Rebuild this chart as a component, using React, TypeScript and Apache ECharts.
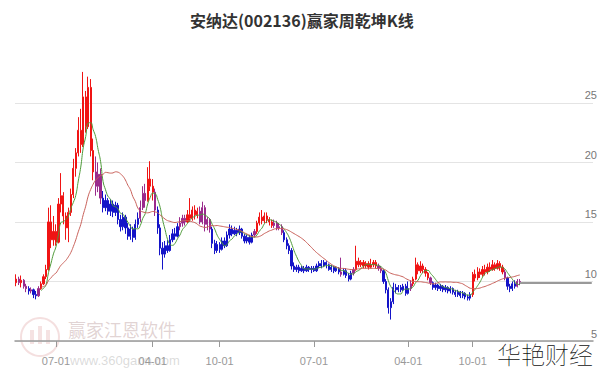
import React, { useEffect, useRef } from "react";
import * as echarts from "echarts";

// ---------- data ----------
const TITLE = "安纳达(002136)赢家周乾坤K线";
const FIRST_WEEK = "2015-03-13";
// weeks with no trading (holiday weeks) are not on the axis
const HOLIDAY_WEEKS = ["2016-10-07", "2017-10-06", "2018-10-05", "2019-02-08"];
const AXIS_WEEKS = 233;
const TICK_DATES = ["2015-07-01", "2016-04-01", "2016-10-01", "2017-07-01", "2018-04-01", "2018-10-01"];
const Y_TICKS = [5, 10, 15, 20, 25];

const OPEN = [
  9.9, 10.2, 9.9, 10.1, 9.6, 9.4, 9.2, 9.3, 8.9, 8.8,
  9.4, 9.8, 10.4, 11.0, 15.0, 13.5, 14.2, 13.3, 16.5, 17.2,
  15.5, 14.5, 15.8, 17.3, 19.5, 20.8, 22.7, 21.5, 25.5, 23.0,
  26.3, 21.0, 19.2, 18.0, 19.0, 17.0, 16.2, 16.8, 15.9, 16.5,
  15.8, 16.4, 15.2, 14.6, 15.4, 14.5, 13.8, 14.4, 13.7, 14.8,
  15.3, 16.2, 17.4, 16.8, 18.6, 18.0, 17.5, 16.0, 14.5, 12.8,
  12.3, 13.0, 12.6, 13.5, 14.0, 13.8, 14.6, 14.9, 15.3, 15.0,
  15.6, 15.3, 16.0, 15.6, 15.9, 15.0, 16.2, 14.8, 15.2, 14.4,
  13.2, 12.6, 13.1, 12.7, 13.4, 13.0, 13.9, 14.4, 14.0, 14.3,
  14.1, 14.4, 13.8, 13.4, 13.7, 13.3, 13.9, 14.2, 14.9, 15.4,
  15.1, 15.5, 15.2, 15.0, 14.7, 14.9, 14.5, 14.6, 14.1, 13.5,
  13.0, 12.6, 11.3, 11.0, 11.2, 10.9, 11.1, 10.9, 11.2, 11.0,
  11.1, 10.9, 11.3, 11.5, 11.3, 11.6, 11.4, 11.0, 11.2, 10.9,
  11.1, 10.8, 10.6, 10.9, 10.5, 10.2, 10.7, 11.0, 11.7, 11.4,
  11.6, 11.3, 11.5, 11.2, 11.4, 11.6, 11.3, 11.1, 10.9, 10.0,
  9.3, 7.8, 8.3, 9.5, 9.3, 9.5, 9.3, 9.6, 9.0, 9.4,
  9.8, 10.2, 11.4, 10.9, 11.3, 11.0, 10.7, 10.3, 9.9, 9.5,
  9.7, 9.4, 9.6, 9.3, 9.5, 9.2, 9.4, 9.1, 8.9, 9.1,
  8.8, 9.0, 8.7, 8.6, 8.9, 10.6, 10.3, 10.8, 10.6, 11.0,
  10.8, 11.2, 11.0, 11.4, 11.1, 11.5, 11.2, 10.8, 10.3, 9.6,
  9.4, 9.8, 9.6, 10.0,
];
const CLOSE = [
  10.2, 9.9, 10.1, 9.6, 9.4, 9.2, 9.3, 8.9, 8.8, 9.4,
  9.8, 10.4, 11.0, 15.0, 13.5, 14.2, 13.3, 16.5, 17.2, 15.5,
  14.5, 15.8, 17.3, 19.5, 20.8, 22.7, 21.5, 25.5, 23.0, 26.3,
  21.0, 19.2, 18.0, 19.0, 17.0, 16.2, 16.8, 15.9, 16.5, 15.8,
  16.4, 15.2, 14.6, 15.4, 14.5, 13.8, 14.4, 13.7, 14.8, 15.3,
  16.2, 17.4, 16.8, 18.6, 18.0, 17.5, 16.0, 14.5, 12.8, 12.3,
  13.0, 12.6, 13.5, 14.0, 13.8, 14.6, 14.9, 15.3, 15.0, 15.6,
  15.3, 16.0, 15.6, 15.9, 15.0, 16.2, 14.8, 15.2, 14.4, 13.2,
  12.6, 13.1, 12.7, 13.4, 13.0, 13.9, 14.4, 14.0, 14.3, 14.1,
  14.4, 13.8, 13.4, 13.7, 13.3, 13.9, 14.2, 14.9, 15.4, 15.1,
  15.5, 15.2, 15.0, 14.7, 14.9, 14.5, 14.6, 14.1, 13.5, 13.0,
  12.6, 11.3, 11.0, 11.2, 10.9, 11.1, 10.9, 11.2, 11.0, 11.1,
  10.9, 11.3, 11.5, 11.3, 11.6, 11.4, 11.0, 11.2, 10.9, 11.1,
  10.8, 10.6, 10.9, 10.5, 10.2, 10.7, 11.0, 11.7, 11.4, 11.6,
  11.3, 11.5, 11.2, 11.4, 11.6, 11.3, 11.1, 10.9, 10.0, 9.3,
  7.8, 8.3, 9.5, 9.3, 9.5, 9.3, 9.6, 9.0, 9.4, 9.8,
  10.2, 11.4, 10.9, 11.3, 11.0, 10.7, 10.3, 9.9, 9.5, 9.7,
  9.4, 9.6, 9.3, 9.5, 9.2, 9.4, 9.1, 8.9, 9.1, 8.8,
  9.0, 8.7, 8.6, 8.9, 10.6, 10.3, 10.8, 10.6, 11.0, 10.8,
  11.2, 11.0, 11.4, 11.1, 11.5, 11.2, 10.8, 10.3, 9.6, 9.4,
  9.8, 9.6, 10.0, 9.9,
];
const LOW = [
  9.6, 9.7, 9.5, 9.4, 9.1, 8.9, 9.0, 8.6, 8.5, 8.7,
  9.3, 9.7, 10.2, 10.9, 12.8, 13.0, 13.0, 13.2, 15.8, 14.8,
  13.5, 13.3, 15.5, 17.0, 18.8, 20.5, 20.8, 21.3, 22.5, 22.8,
  20.5, 18.5, 17.2, 17.5, 16.5, 15.8, 15.9, 15.6, 15.5, 15.4,
  15.5, 14.8, 14.2, 14.3, 14.0, 13.5, 13.5, 13.3, 13.5, 14.5,
  15.0, 16.0, 16.2, 16.7, 17.6, 16.8, 15.5, 14.0, 12.2, 11.0,
  12.0, 12.4, 12.5, 13.3, 13.5, 13.7, 14.3, 14.6, 14.7, 14.9,
  15.0, 15.1, 15.2, 15.3, 14.8, 14.8, 14.2, 14.3, 14.1, 12.8,
  12.3, 12.4, 12.4, 12.6, 12.8, 12.9, 13.6, 13.8, 13.9, 13.8,
  13.9, 13.6, 13.2, 13.2, 13.1, 13.2, 13.7, 14.0, 14.7, 14.8,
  14.9, 14.9, 14.7, 14.5, 14.5, 14.3, 14.3, 13.9, 13.3, 12.7,
  12.3, 11.0, 10.8, 10.8, 10.7, 10.8, 10.7, 10.8, 10.8, 10.7,
  10.8, 10.8, 11.1, 11.1, 11.2, 11.1, 10.9, 10.8, 10.7, 10.8,
  10.6, 10.4, 10.5, 10.3, 10.0, 10.1, 10.5, 10.9, 11.2, 11.2,
  11.1, 11.1, 11.0, 11.1, 11.2, 11.1, 10.9, 10.7, 9.8, 9.0,
  7.3, 6.8, 8.1, 9.0, 9.1, 9.1, 9.2, 8.8, 8.9, 9.2,
  9.6, 10.1, 10.6, 10.7, 10.7, 10.4, 10.1, 9.7, 9.3, 9.3,
  9.2, 9.2, 9.1, 9.1, 9.0, 9.0, 8.9, 8.7, 8.7, 8.6,
  8.6, 8.5, 8.4, 8.4, 8.7, 10.0, 10.1, 10.3, 10.4, 10.5,
  10.6, 10.8, 10.9, 10.9, 11.0, 10.9, 10.6, 10.1, 9.3, 9.1,
  9.2, 9.4, 9.5, 9.7,
];
const HIGH = [
  10.6, 10.4, 10.5, 10.2, 9.8, 9.6, 9.5, 9.4, 9.2, 9.6,
  10.0, 10.6, 11.4, 16.2, 16.4, 15.5, 14.8, 17.0, 19.1, 17.5,
  15.8, 16.2, 17.8, 20.3, 21.2, 23.8, 24.5, 27.6, 26.0, 27.2,
  27.0, 22.0, 20.5, 20.0, 19.5, 17.6, 17.3, 17.0, 16.9, 16.8,
  16.7, 16.6, 15.6, 15.8, 15.6, 14.9, 14.8, 14.6, 15.2, 15.8,
  16.8, 18.0, 18.2, 19.6, 20.1, 18.6, 17.8, 16.3, 14.8, 13.3,
  13.4, 13.5, 13.9, 14.4, 14.5, 14.9, 15.4, 15.6, 15.6, 16.0,
  17.0, 16.3, 16.4, 16.2, 16.3, 16.7, 16.4, 15.4, 15.3, 14.6,
  13.5, 13.4, 13.3, 13.7, 13.7, 14.2, 14.8, 14.7, 14.6, 14.5,
  14.7, 14.5, 14.0, 13.9, 13.9, 14.1, 14.4, 15.1, 15.8, 16.0,
  15.8, 15.8, 15.4, 15.2, 15.2, 15.1, 14.9, 14.8, 14.3, 13.7,
  13.2, 12.8, 11.6, 11.4, 11.4, 11.3, 11.3, 11.4, 11.3, 11.3,
  11.3, 11.5, 11.7, 11.8, 11.8, 11.7, 11.5, 11.4, 11.3, 11.3,
  11.2, 12.0, 11.1, 11.1, 10.7, 10.9, 11.2, 13.0, 12.0, 11.8,
  11.8, 11.7, 11.7, 11.9, 11.8, 11.8, 11.5, 11.3, 11.0, 10.2,
  9.5, 8.6, 9.9, 9.8, 9.7, 9.7, 9.8, 9.8, 10.0, 10.1,
  10.4, 12.0, 11.6, 11.7, 11.5, 11.2, 10.8, 10.4, 10.0, 9.9,
  9.8, 9.8, 9.7, 9.7, 9.6, 9.6, 9.5, 9.3, 9.3, 9.2,
  9.2, 9.1, 8.9, 9.1, 10.8, 11.0, 11.2, 11.1, 11.3, 11.4,
  11.5, 11.6, 11.8, 11.6, 11.8, 11.7, 11.4, 11.0, 10.4, 9.8,
  10.0, 10.1, 10.2, 10.2,
];
// r = 上升 (red), b = 下降 (blue), p = 转折 (purple)
const TREND =
  "rprppbpbbp" + "rrrrrrrrrr" + "rrrrrrrrrr" + "rrpppbbbbb" + "bbbbbbbbbb" +
  "ppprrrpbbb" + "bbbbbbpppr" + "rrrrpppppb" + "bbbbbbbbbb" + "bbbbbbprrr" +
  "rrrrppppbb" + "bbbbbbbbbb" + "bbbbbbbbbb" + "bpbbbbprrr" + "rrrrrrppbb" +
  "bbbbbbbbbp" + "rrrrrrrpbb" + "bbbbbbbbbb" + "bbbbrrrrrr" + "rrrrrrrpbb" +
  "bbpp";

const MA_SHORT = 6;
const MA_LONG = 20;
const MA_FROM = 10;

// ---------- helpers ----------
const TREND_COLORS: Record<string, string> = { r: "#f01414", b: "#1414c8", p: "#9a2a8c" };

function fmt(d: Date) {
  return d.toISOString().slice(0, 10);
}

function buildWeeks(): string[] {
  const out: string[] = [];
  const d = new Date(FIRST_WEEK + "T00:00:00Z");
  while (out.length < AXIS_WEEKS) {
    const s = fmt(d);
    if (!HOLIDAY_WEEKS.includes(s)) out.push(s);
    d.setUTCDate(d.getUTCDate() + 7);
  }
  return out;
}

function movingAverage(period: number) {
  return CLOSE.map((_, i) => {
    if (i < MA_FROM) return "-";
    const s = Math.max(0, i - period + 1);
    let sum = 0;
    for (let k = s; k <= i; k++) sum += CLOSE[k];
    return +(sum / (i - s + 1)).toFixed(3);
  });
}

export default function App() {
  const ref = useRef<HTMLDivElement>(null);

  useEffect(() => {
    if (!ref.current) return;
    const chart = echarts.init(ref.current, null, { renderer: "svg" });
    const weeks = buildWeeks();
    const labelMap = new Map<number, string>();
    TICK_DATES.forEach((t) => {
      const k = weeks.findIndex((w) => w >= t);
      if (k >= 0) labelMap.set(k, t.slice(5));
    });
    const showIdx = (i: number) => labelMap.has(i);

    const candles = OPEN.map((o, i) => {
      const c = TREND_COLORS[TREND[i]] || TREND_COLORS.b;
      return {
        value: [o, CLOSE[i], LOW[i], HIGH[i]],
        itemStyle: { color: c, color0: c, borderColor: c, borderColor0: c, borderWidth: 1 },
      };
    });
    const last = CLOSE.length - 1;

    const yMax = 28.6;
    const gridColors = Y_TICKS.map(() => "#e4e4e4").concat(["rgba(0,0,0,0)"]);

    chart.setOption({
      animation: false,
      backgroundColor: "#ffffff",
      title: {
        text: TITLE,
        left: 190,
        top: 12,
        padding: 0,
        textStyle: { fontSize: 16, fontWeight: "bold", color: "#333", fontFamily: "Noto Sans CJK SC" },
      },
      grid: { left: 15, right: 7, top: 60, bottom: 30 },
      xAxis: {
        type: "category",
        data: weeks,
        boundaryGap: true,
        axisLine: { lineStyle: { color: "#999", width: 1.5 } },
        axisTick: { show: true, interval: showIdx, alignWithLabel: true, length: 6, lineStyle: { color: "#999" } },
        axisLabel: {
          interval: showIdx,
          formatter: (_v: string, i: number) => labelMap.get(i) || "",
          color: "#999",
          fontSize: 11,
          margin: 14,
          fontFamily: "Liberation Sans",
        },
        splitLine: { show: false },
      },
      yAxis: {
        type: "value",
        position: "right",
        min: 5,
        max: yMax,
        interval: 5,
        axisLine: { show: false },
        axisTick: { show: false },
        axisLabel: {
          inside: true,
          margin: -4,
          color: "#777",
          fontSize: 11,
          lineHeight: 11,
          verticalAlign: "bottom",
          padding: [0, 0, 2, 0],
          showMaxLabel: false,
          fontFamily: "Liberation Sans",
        },
        splitLine: { show: true, lineStyle: { color: gridColors, width: 1 } },
      },
      series: [
        {
          type: "candlestick",
          data: candles,
          barWidth: "70%",
          markLine: {
            silent: true,
            symbol: "none",
            label: { show: false },
            lineStyle: { color: "#999", width: 2, type: "solid" },
            data: [[{ coord: [weeks[last], CLOSE[last]] }, { coord: [weeks[weeks.length - 1], CLOSE[last]] }]],
          },
        },
        {
          type: "line",
          data: movingAverage(MA_SHORT),
          showSymbol: false,
          smooth: true,
          lineStyle: { color: "#4f9a3a", width: 1 },
          z: 3,
        },
        {
          type: "line",
          data: movingAverage(MA_LONG),
          showSymbol: false,
          smooth: true,
          lineStyle: { color: "#c8615a", width: 1 },
          z: 3,
        },
      ],
      graphic: [
        {
          type: "group",
          z: 0,
          silent: true,
          children: [
            { type: "ring", shape: { cx: 40, cy: 337, r: 20, r0: 18 }, style: { fill: "rgba(205,110,110,0.22)" } },
            { type: "rect", shape: { x: 30, y: 330, width: 4, height: 14 }, style: { fill: "rgba(205,110,110,0.2)" } },
            { type: "rect", shape: { x: 38, y: 326, width: 4, height: 18 }, style: { fill: "rgba(205,110,110,0.2)" } },
            { type: "rect", shape: { x: 46, y: 330, width: 4, height: 14 }, style: { fill: "rgba(205,110,110,0.2)" } },
            {
              type: "text",
              x: 68,
              y: 329,
              style: {
                text: "赢家江恩软件",
                fontSize: 18,
                fill: "rgba(170,130,130,0.35)",
                fontFamily: "Noto Sans CJK SC",
                textVerticalAlign: "middle",
              },
            },
            {
              type: "text",
              x: 70,
              y: 360,
              style: {
                text: "www.360gann.com",
                fontSize: 13,
                fill: "rgba(150,150,150,0.35)",
                fontFamily: "Liberation Sans",
                textVerticalAlign: "middle",
              },
            },
          ],
        },
        {
          type: "text",
          x: 497,
          y: 353,
          z: 100,
          style: {
            text: "华艳财经",
            fontSize: 24,
            fill: "#111",
            fontWeight: "lighter",
            fontFamily: "Noto Sans CJK SC",
            textVerticalAlign: "middle",
          },
        },
      ],
    });
    return () => chart.dispose();
  }, []);

  return <div ref={ref} style={{ position: "fixed", left: 0, top: 0, width: 600, height: 371 }} />;
}
